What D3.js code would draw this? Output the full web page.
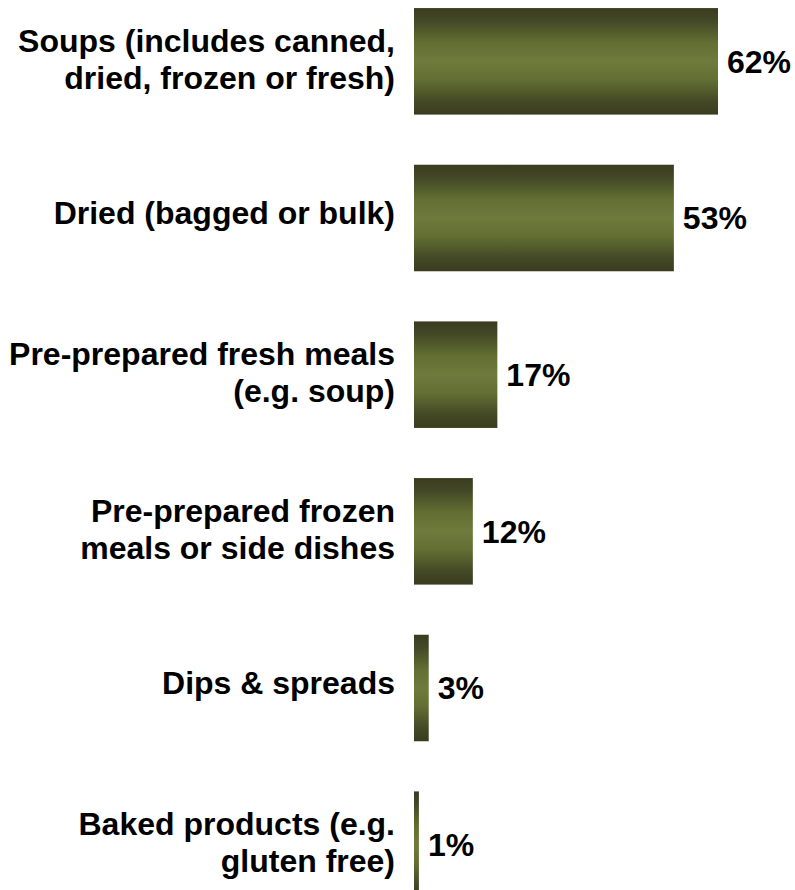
<!DOCTYPE html>
<html>
<head>
<meta charset="utf-8">
<script src="https://cdn.jsdelivr.net/npm/d3@7/dist/d3.min.js"></script>
<style>
  html, body { margin: 0; padding: 0; background: #fff; }
  svg { display: block; }
</style>
</head>
<body>
<svg id="chart" width="795" height="890"></svg>
<script>
const categories = [
  ["Soups (includes canned,", "dried, frozen or fresh)"],
  ["Dried (bagged or bulk)"],
  ["Pre-prepared fresh meals", "(e.g. soup)"],
  ["Pre-prepared frozen", "meals or side dishes"],
  ["Dips & spreads"],
  ["Baked products (e.g.", "gluten free)"]
];
const values = [62, 53, 17, 12, 3, 1];
const valueLabels = ["62%", "53%", "17%", "12%", "3%", "1%"];

const svg = d3.select("#chart");
const defs = svg.append("defs");
const grad = defs.append("linearGradient")
  .attr("id", "barGrad").attr("x1", 0).attr("y1", 0).attr("x2", 0).attr("y2", 1);
[[0, "#393d1f"], [0.12, "#434826"], [0.33, "#636f33"], [0.5, "#6f7b3c"], [0.67, "#636f33"], [0.88, "#434826"], [1, "#393d1f"]]
  .forEach(([o, c]) => grad.append("stop").attr("offset", o).attr("stop-color", c));

const idx = d3.range(values.length);
const y = d3.scaleBand().domain(idx).range([-17, 923]).paddingInner(0.32).paddingOuter(0.16);
const x = d3.scaleLinear().domain([0, 62]).range([414, 718]);

const font = "'Liberation Sans', Arial, Helvetica, sans-serif";
const fs = 32;

svg.append("g").selectAll("rect").data(idx).join("rect")
  .attr("x", x(0))
  .attr("y", i => y(i))
  .attr("width", i => x(values[i]) - x(0))
  .attr("height", y.bandwidth())
  .attr("fill", "url(#barGrad)");

svg.append("g").selectAll("text").data(idx).join("text")
  .attr("x", i => x(values[i]) + 9)
  .attr("y", i => y(i) + y.bandwidth() / 2)
  .attr("dy", "0.35em")
  .attr("font-family", font)
  .attr("font-weight", "bold")
  .attr("font-size", fs)
  .attr("fill", "#000")
  .text(i => valueLabels[i]);

const lineH = 37;
const lab = svg.append("g").selectAll("text").data(idx).join("text")
  .attr("text-anchor", "end")
  .attr("font-family", font)
  .attr("font-weight", "bold")
  .attr("font-size", fs)
  .attr("fill", "#000");
lab.each(function(i) {
  const lines = categories[i];
  const cy = y(i) + y.bandwidth() / 2 + (lines.length > 1 ? -2.5 : -5);
  const first = cy - (lines.length - 1) * lineH / 2;
  d3.select(this).selectAll("tspan").data(lines).join("tspan")
    .attr("x", 395)
    .attr("y", (d, k) => first + k * lineH)
    .attr("dy", "0.35em")
    .text(d => d);
});
</script>
</body>
</html>
